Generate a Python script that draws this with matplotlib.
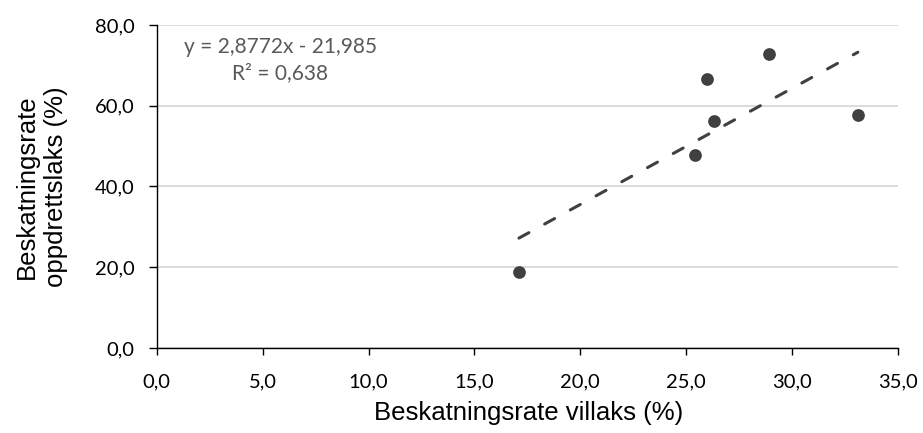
import numpy as np
import matplotlib

matplotlib.use("Agg")
import matplotlib.pyplot as plt

# villaks vs oppdrettslaks, beskatningsrate per elv (%)
villaks = [17.1, 25.4, 26.0, 26.3, 28.9, 33.1]
oppdrett = [18.7, 47.8, 66.5, 56.3, 72.7, 57.8]

# lineær trendlinje slik den står i diagrammet
slope = 2.8772
intercept = -21.985
r2 = 0.638

x_ticks = [0, 5, 10, 15, 20, 25, 30, 35]
y_ticks = [0, 20, 40, 60, 80]

dark = "#404040"
tick_font = "Lato"
label_font = "Liberation Sans"


def komma(v):
    return f"{v:.1f}".replace(".", ",")


fig = plt.figure(figsize=(9.23, 4.33), dpi=100)
ax = fig.add_axes([0.1698, 0.1963, 0.8032, 0.746])

ax.scatter(villaks, oppdrett, s=84, color=dark, zorder=3, linewidths=0)

xt = np.array([min(villaks), max(villaks)])
ax.plot(xt, slope * xt + intercept, color=dark, lw=2.2,
        dashes=(3.7, 5.9), dash_capstyle="round", zorder=2)

ax.set_xlim(0, 35)
ax.set_ylim(0, 80)
ax.set_xticks(x_ticks)
ax.set_yticks(y_ticks)
ax.set_xticklabels([komma(v) for v in x_ticks], fontfamily=tick_font,
                   fontsize=14.5)
ax.set_yticklabels([komma(v) for v in y_ticks], fontfamily=tick_font,
                   fontsize=14.5)

ax.yaxis.grid(True, color="#d9d9d9", lw=1.3)
ax.set_axisbelow(True)
for side in ("top", "right"):
    ax.spines[side].set_visible(False)
for side in ("left", "bottom"):
    ax.spines[side].set_color("black")
    ax.spines[side].set_linewidth(1.0)
ax.tick_params(axis="x", direction="out", length=5, width=1.0,
               color="black", labelcolor="black", pad=13)
ax.tick_params(axis="y", direction="out", length=6, width=1.0,
               color="black", labelcolor="black", pad=10)

ax.set_xlabel("Beskatningsrate villaks (%)", fontfamily=label_font,
              fontsize=18.5)
ax.set_ylabel("Beskatningsrate\noppdrettslaks (%)", fontfamily=label_font,
              fontsize=18.5, linespacing=1.25)
ax.xaxis.set_label_coords(0.502, -0.165)
ax.yaxis.set_label_coords(-0.12, 0.5)

eq = f"y = {slope:.4f}x - {abs(intercept):.3f}".replace(".", ",")
r2_txt = f"R² = {r2:.3f}".replace(".", ",")
ax.text(0.1665, 0.962, eq + "\n" + r2_txt, transform=ax.transAxes,
        ha="center", va="top", multialignment="center",
        fontfamily=tick_font, fontsize=15, color="#595959",
        linespacing=1.35)

fig.savefig("out.png", dpi=100)
